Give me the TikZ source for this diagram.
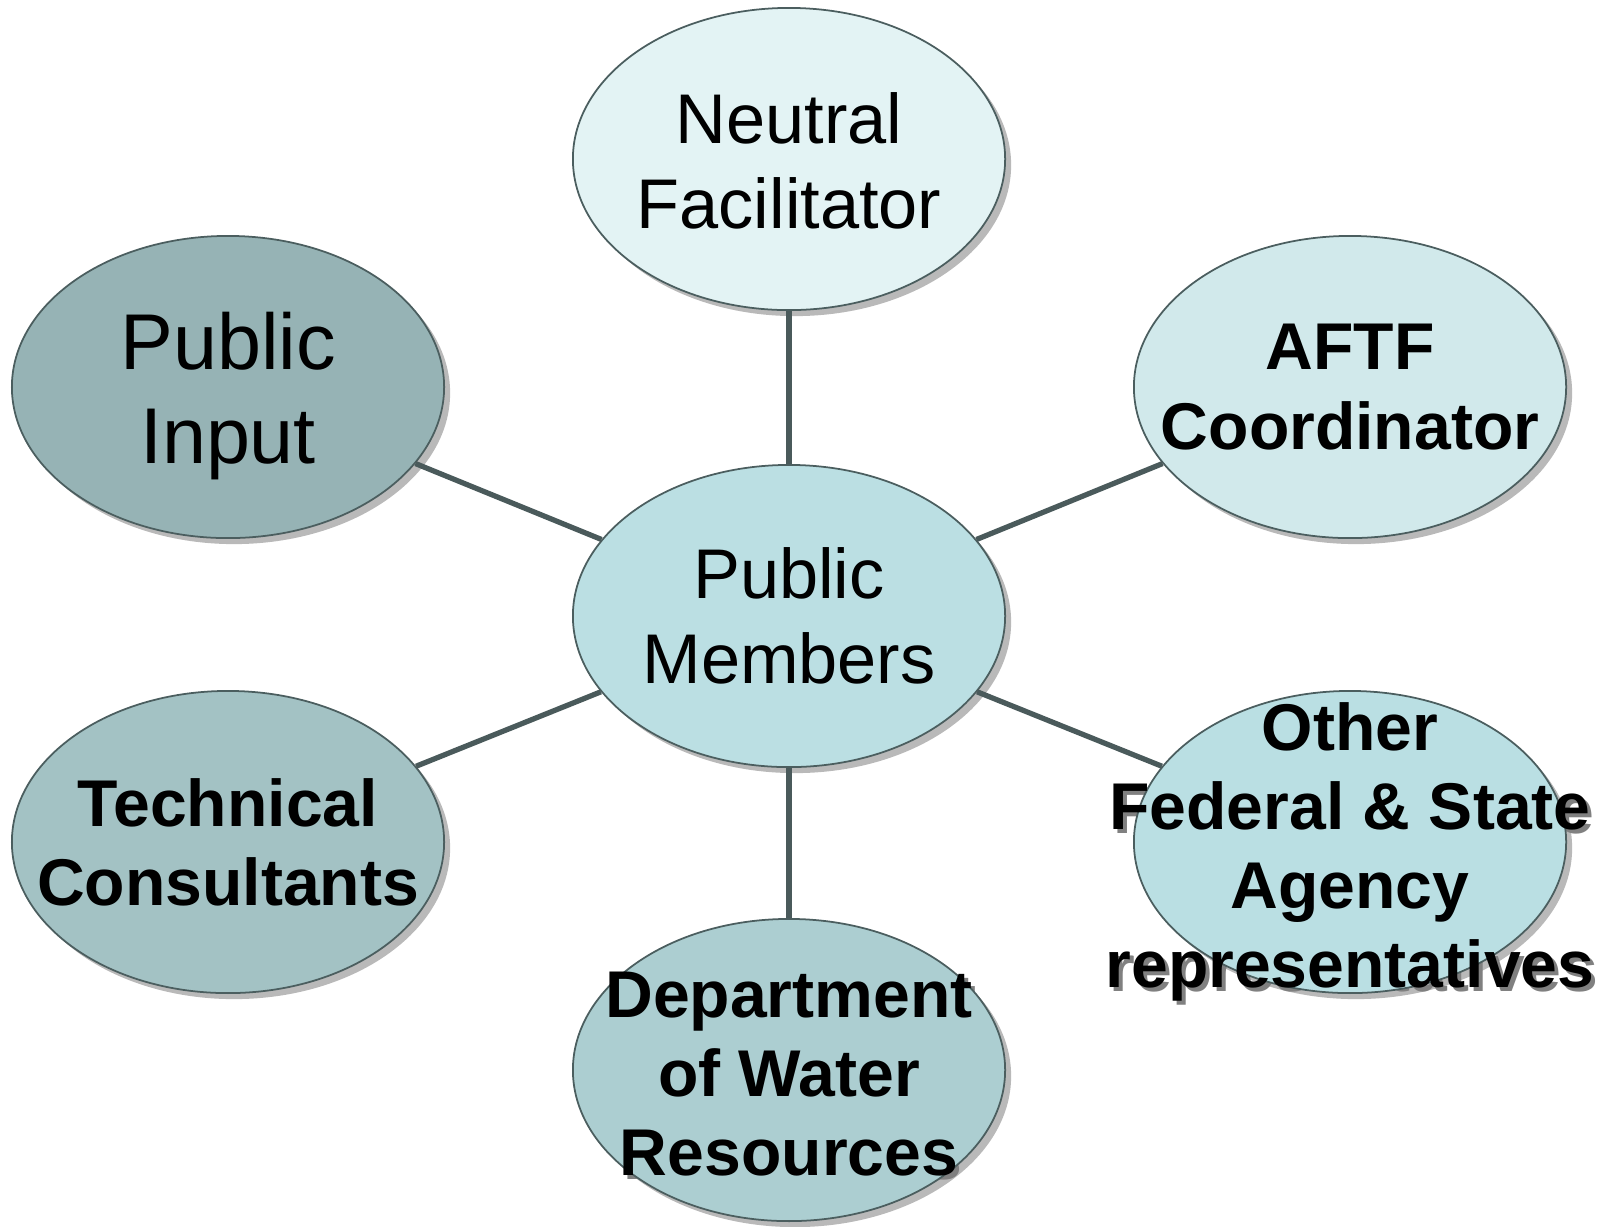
\documentclass[tikz,border=0pt]{standalone}
\usepackage{fontspec}
\setmainfont{Liberation Sans}
\usetikzlibrary{shapes.geometric}

\definecolor{edgegray}{HTML}{4B5E5F}
\definecolor{linkgray}{HTML}{4A5A5B}
\definecolor{shadowgray}{HTML}{B9B9B9}
\definecolor{textshadow}{HTML}{808080}
\definecolor{nfcol}{HTML}{E3F3F4}
\definecolor{picol}{HTML}{96B3B5}
\definecolor{aftfcol}{HTML}{D1E9EB}
\definecolor{pmcol}{HTML}{BBDFE3}
\definecolor{tccol}{HTML}{A3C2C4}
\definecolor{dwrcol}{HTML}{ACCED1}
\definecolor{ofscol}{HTML}{BADFE3}

\tikzset{
  bubble/.style={ellipse, draw=edgegray, line width=0.5pt,
    minimum width=4.32cm, minimum height=3.02cm, inner sep=0pt},
  bubbleshadow/.style={ellipse, fill=shadowgray,
    minimum width=4.32cm, minimum height=3.02cm, inner sep=0pt},
  plain/.style={align=center, inner sep=0pt, font=\fontsize{20}{24}\selectfont},
  large/.style={align=center, inner sep=0pt, font=\fontsize{22.5}{27}\selectfont},
  heavy/.style={align=center, inner sep=0pt, font=\fontsize{18.8}{22.5}\selectfont\bfseries},
  link/.style={draw=linkgray, line width=1.5pt}
}

\begin{document}
\begin{tikzpicture}[x=0.01cm, y=-0.01cm]
    \useasboundingbox (0,0) rectangle (1610,1226);

    % Schatten der Ellipsen
    \node[bubbleshadow] (nf-s) at (795,165) {};
    \node[bubbleshadow] (pi-s) at (234,393) {};
    \node[bubbleshadow] (aftf-s) at (1356,393) {};
    \node[bubbleshadow] (pm-s) at (795,622) {};
    \node[bubbleshadow] (tc-s) at (234,848) {};
    \node[bubbleshadow] (ofs-s) at (1356,848) {};
    \node[bubbleshadow] (dwr-s) at (795,1076) {};

    % Schatten der Texte
    \node[heavy, text=textshadow] (aftf-ts) at (1354,391) {AFTF\\Coordinator};
    \node[heavy, text=textshadow] (tc-ts) at (232,846) {Technical\\Consultants};
    \node[heavy, text=textshadow] (ofs-ts) at (1354,856) {Other\\Federal \& State\\Agency\\representatives};
    \node[heavy, text=textshadow] (dwr-ts) at (793,1078) {Department\\of Water\\Resources};

    % Ellipsen
    \node[bubble, fill=nfcol] (nf) at (789,159) {};
    \node[bubble, fill=picol] (pi) at (228,387) {};
    \node[bubble, fill=aftfcol] (aftf) at (1350,387) {};
    \node[bubble, fill=pmcol] (pm) at (789,616) {};
    \node[bubble, fill=tccol] (tc) at (228,842) {};
    \node[bubble, fill=ofscol] (ofs) at (1350,842) {};
    \node[bubble, fill=dwrcol] (dwr) at (789,1070) {};

    % Texte
    \node[plain] (nf-t) at (789,161) {Neutral\\Facilitator};
    \node[large] (pi-t) at (228,396) {Public\\Input};
    \node[heavy] (aftf-t) at (aftf) {AFTF\\Coordinator};
    \node[plain] (pm-t) at (pm) {Public\\Members};
    \node[heavy] (tc-t) at (tc) {Technical\\Consultants};
    \node[heavy] (ofs-t) at (1350,852) {Other\\Federal \& State\\Agency\\representatives};
    \node[heavy] (dwr-t) at (789,1074) {Department\\of Water\\Resources};

    % Verbindungen
    \draw[link] (pm) -- (nf);
    \draw[link] (pm) -- (pi);
    \draw[link] (pm) -- (aftf);
    \draw[link] (pm) -- (tc);
    \draw[link] (pm) -- (ofs);
    \draw[link] (pm) -- (dwr);
\end{tikzpicture}
\end{document}
